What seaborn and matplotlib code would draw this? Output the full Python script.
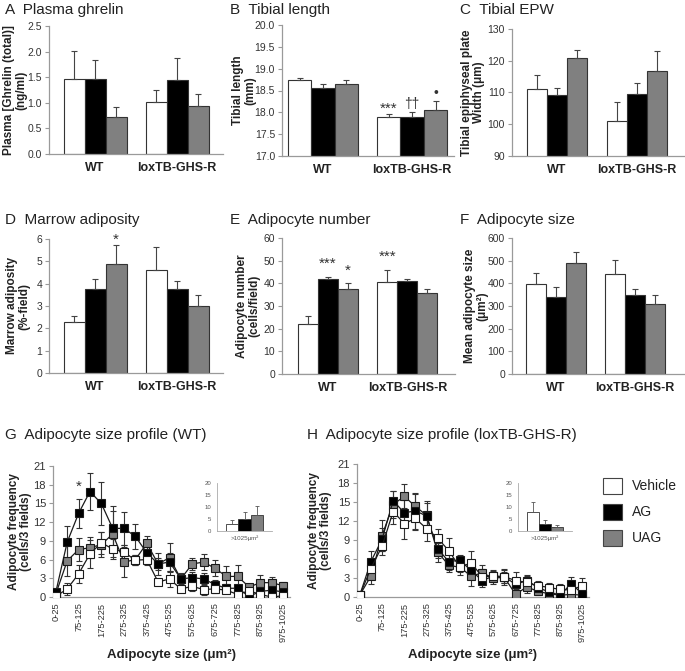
import numpy as np
import pandas as pd
import matplotlib
matplotlib.use("Agg")
import matplotlib.pyplot as plt
import seaborn as sns
from matplotlib.patches import Patch

sns.set_theme(style="white")
plt.rcParams["font.family"] = ["Liberation Sans", "DejaVu Sans"]

# ---------------- data ----------------
genotypes = ["WT", "loxTB-GHS-R"]
treatments = ["Vehicle", "AG", "UAG"]

a_wt, a_wt_err = [1.47, 1.46, 0.72], [0.55, 0.38, 0.20]
a_lox, a_lox_err = [1.02, 1.45, 0.93], [0.23, 0.43, 0.24]

b_wt, b_wt_err = [18.73, 18.56, 18.65], [0.06, 0.08, 0.10]
b_lox, b_lox_err = [17.90, 17.90, 18.05], [0.07, 0.10, 0.20]

c_wt, c_wt_err = [111.0, 109.3, 120.8], [4.5, 2.0, 2.7]
c_lox, c_lox_err = [101.0, 109.5, 116.8], [6.0, 3.5, 6.2]

d_wt, d_wt_err = [2.27, 3.77, 4.90], [0.30, 0.42, 0.82]
d_lox, d_lox_err = [4.63, 3.77, 2.99], [1.03, 0.37, 0.50]

e_wt, e_wt_err = [22.2, 42.1, 37.3], [3.2, 0.9, 3.0]
e_lox, e_lox_err = [40.7, 40.9, 35.6], [5.0, 1.1, 1.7]

f_wt, f_wt_err = [395, 340, 490], [52, 45, 50]
f_lox, f_lox_err = [442, 347, 311], [62, 28, 38]

size_bins = ["0-25", "25-75", "75-125", "125-175", "175-225", "225-275", "275-325",
             "325-375", "375-425", "425-475", "475-525", "525-575", "575-625",
             "625-675", "675-725", "725-775", "775-825", "825-875", "875-925",
             "925-975", "975-1025"]

g_vehicle = [0.1, 1.3, 3.7, 6.9, 8.7, 7.7, 7.2, 5.9, 6.0, 2.4, 2.9, 1.3, 1.7, 1.2, 1.3, 1.1, 0.4, 1.0, 0.4, 0.0, 0.2]
g_ag = [0.8, 8.8, 13.4, 16.9, 15.0, 11.0, 11.0, 9.7, 7.1, 5.3, 5.6, 2.9, 3.1, 2.9, 2.0, 1.4, 1.4, 0.1, 0.9, 1.1, 0.8]
g_uag = [0.5, 5.8, 7.6, 7.9, 8.4, 10.1, 5.6, 6.0, 8.6, 5.3, 6.3, 2.9, 5.3, 5.6, 4.6, 3.3, 3.3, 1.6, 2.3, 2.3, 1.8]
g_vehicle_err = [0.3, 0.9, 1.5, 2.2, 1.8, 1.6, 1.2, 0.8, 0.8, 0.5, 1.3, 0.5, 0.8, 0.9, 0.6, 0.5, 0.4, 0.6, 0.4, 0.2, 0.3]
g_ag_err = [0.5, 2.6, 2.3, 2.9, 3.4, 3.6, 2.7, 2.0, 1.0, 1.0, 1.5, 0.8, 0.9, 0.9, 0.8, 0.7, 0.6, 0.3, 0.6, 0.5, 0.5]
g_uag_err = [0.4, 2.5, 1.8, 1.7, 2.0, 3.7, 2.4, 0.8, 1.2, 1.8, 2.3, 1.0, 0.9, 1.3, 1.3, 1.7, 1.8, 0.5, 1.3, 0.9, 0.6]

h_vehicle = [0.3, 4.5, 8.0, 13.5, 11.6, 12.4, 10.8, 9.3, 7.3, 4.7, 5.4, 3.2, 3.3, 3.2, 2.6, 2.3, 1.8, 1.5, 1.2, 1.1, 1.8]
h_ag = [0.3, 5.6, 9.1, 15.2, 13.3, 13.6, 12.8, 7.6, 5.6, 5.8, 4.2, 2.6, 3.3, 3.2, 2.0, 2.6, 1.5, 0.8, 0.3, 2.1, 0.5]
h_uag = [0.3, 3.3, 9.7, 14.6, 15.9, 14.3, 12.9, 7.1, 5.0, 4.7, 3.3, 3.8, 3.0, 3.1, 0.4, 1.6, 0.9, 0.5, 0.3, 0.4, 0.3]
h_vehicle_err = [0.3, 1.5, 1.3, 2.0, 2.5, 1.8, 2.0, 1.5, 2.0, 1.3, 1.8, 1.2, 1.0, 1.3, 1.3, 1.0, 0.8, 0.7, 0.8, 0.8, 1.2]
h_ag_err = [0.3, 1.6, 1.8, 1.5, 2.0, 2.8, 2.3, 1.5, 1.3, 0.9, 1.0, 1.0, 0.8, 1.0, 1.0, 0.8, 0.7, 0.6, 0.4, 1.0, 0.6]
h_uag_err = [0.3, 1.2, 2.5, 2.2, 2.0, 2.0, 2.0, 1.5, 1.0, 0.8, 1.5, 1.3, 1.0, 0.9, 0.3, 1.0, 0.6, 0.5, 0.3, 0.4, 0.2]

inset_label = ">1025\u00b5m\u00b2"
g_large, g_large_err = [3.0, 4.8, 6.8], [1.5, 3.2, 3.5]
h_large, h_large_err = [8.0, 2.8, 1.8], [4.0, 1.7, 0.8]

# ---------------- style ----------------
W, H = 685, 671
FILL = ["#ffffff", "#000000", "#808080"]
EDGE = "#333333"
SPINE = "#9a9a9a"
TXT = "#222222"

fig = plt.figure(figsize=(W / 100, H / 100), dpi=100)
fig.patch.set_facecolor("white")


def rect(l, t, r, b):
    return [l / W, 1 - b / H, (r - l) / W, (b - t) / H]


def style_axes(ax, ylab_size=7.5):
    sns.despine(ax=ax)
    for s in ("left", "bottom"):
        ax.spines[s].set_color(SPINE)
        ax.spines[s].set_linewidth(0.9)
    ax.tick_params(axis="y", left=True, length=3, width=0.8, color=SPINE,
                   labelsize=ylab_size, labelcolor="#333333", pad=2)
    ax.set_facecolor("white")
    ax.grid(False)


def set_ylabel(ax, text, off_px, size=8.5):
    ax.set_ylabel(text, fontsize=size, fontweight="bold", color=TXT, linespacing=1.05)
    ax.yaxis.label.set_va("center")
    wpx = ax.get_position().width * W
    ax.yaxis.set_label_coords(-off_px / wpx, 0.5)


def bar_panel(box, wt, lox, wt_err, lox_err, ylim, yticks, fmt, ylabel, off, xlim, width):
    ax = fig.add_axes(rect(*box))
    df = pd.DataFrame({
        "genotype": [g for g in genotypes for _ in treatments],
        "treatment": treatments * 2,
        "value": list(wt) + list(lox),
    })
    sns.barplot(data=df, x="genotype", y="value", hue="treatment", order=genotypes,
                hue_order=treatments, palette=FILL, saturation=1, width=width,
                edgecolor=EDGE, linewidth=0.8, errorbar=None, legend=False, ax=ax)
    bars = list(ax.containers)
    ax._bar_conts = bars
    errs = [wt_err, lox_err]
    for i, cont in enumerate(bars):
        for j, bar in enumerate(cont):
            x = bar.get_x() + bar.get_width() / 2
            y = bar.get_height()
            ax.errorbar(x, y, yerr=[[0], [errs[j][i]]], fmt="none", ecolor="#444444",
                        elinewidth=0.8, capsize=2.5, capthick=0.8, zorder=1)
    ax.set_ylim(*ylim)
    ax.set_yticks(yticks)
    ax.set_yticklabels([fmt.format(v) for v in yticks])
    ax.set_xlim(*xlim)
    style_axes(ax)
    ax.tick_params(axis="x", bottom=False, length=0, labelsize=9, pad=6)
    for lab in ax.get_xticklabels():
        lab.set_fontweight("bold")
        lab.set_color(TXT)
    ax.set_xlabel("")
    set_ylabel(ax, ylabel, off)
    return ax


def bar_x(ax, hue_i, geno_i):
    bar = ax._bar_conts[hue_i][geno_i]
    return bar.get_x() + bar.get_width() / 2


TS = 11
# Row 1
axA = bar_panel((49, 26, 223, 154), a_wt, a_lox, a_wt_err, a_lox_err, (0, 2.5),
                [0, 0.5, 1.0, 1.5, 2.0, 2.5], "{:.1f}", "Plasma [Ghrelin (total)]\n(ng/ml)", 34,
                (-0.563, 1.56), 0.77)
axB = bar_panel((282, 25, 454, 156), b_wt, b_lox, b_wt_err, b_lox_err, (17, 20),
                [17, 17.5, 18, 18.5, 19, 19.5, 20], "{:.1f}", "Tibial length\n(mm)", 38,
                (-0.46, 1.47), 0.79)
axC = bar_panel((512, 29, 684, 156), c_wt, c_lox, c_wt_err, c_lox_err, (90, 130),
                [90, 100, 110, 120, 130], "{:.0f}", "Tibial epiphyseal plate\nWidth (\u03bcm)", 39,
                (-0.56, 1.585), 0.75)
# Row 2
axD = bar_panel((49, 239, 223, 373), d_wt, d_lox, d_wt_err, d_lox_err, (0, 6),
                [0, 1, 2, 3, 4, 5, 6], "{:.0f}", "Marrow adiposity\n(%-field)", 31,
                (-0.563, 1.56), 0.77)
axE = bar_panel((282, 238, 455, 374), e_wt, e_lox, e_wt_err, e_lox_err, (0, 60),
                [0, 10, 20, 30, 40, 50, 60], "{:.0f}", "Adipocyte number\n(cells/field)", 34,
                (-0.575, 1.6), 0.755)
axF = bar_panel((512, 238, 685, 374), f_wt, f_lox, f_wt_err, f_lox_err, (0, 600),
                [0, 100, 200, 300, 400, 500, 600], "{:.0f}", "Mean adipocyte size\n(\u03bcm\u00b2)", 36,
                (-0.555, 1.63), 0.755)

# annotations
ann_kw = dict(ha="center", va="center", color="#333333", fontsize=11)
axB.text(bar_x(axB, 0, 1), 18.08, "***", **ann_kw)
axB.text(bar_x(axB, 1, 1), 18.2, "\u2020\u2020", ha="center", va="center", color="#333333", fontsize=10)
axB.text(bar_x(axB, 2, 1), 18.45, "\u2022", ha="center", va="center", color="#333333", fontsize=10)
axD.text(bar_x(axD, 2, 0), 5.95, "*", clip_on=False, **ann_kw)
axE.text(bar_x(axE, 1, 0), 48.5, "***", **ann_kw)
axE.text(bar_x(axE, 2, 0), 45.5, "*", **ann_kw)
axE.text(bar_x(axE, 0, 1), 51.5, "***", **ann_kw)

# titles
for x, y, t in [(5, 10, "A  Plasma ghrelin"), (230, 10, "B  Tibial length"),
                (460, 10, "C  Tibial EPW"), (5, 220, "D  Marrow adiposity"),
                (230, 220, "E  Adipocyte number"), (460, 220, "F  Adipocyte size"),
                (5, 435, "G  Adipocyte size profile (WT)"),
                (307, 435, "H  Adipocyte size profile (loxTB-GHS-R)")]:
    fig.text(x / W, 1 - y / H, t, fontsize=TS, va="center", ha="left", color=TXT)


def profile_panel(box, veh, ag, uag, veh_e, ag_e, uag_e, off):
    ax = fig.add_axes(rect(*box))
    xs = np.arange(len(size_bins))
    for vals, errs, fc in [(uag, uag_e, FILL[2]), (ag, ag_e, FILL[1]), (veh, veh_e, FILL[0])]:
        ax.errorbar(xs, vals, yerr=errs, fmt="none", ecolor="#333333", elinewidth=0.8,
                    capsize=2.5, capthick=0.8, zorder=2)
        sns.lineplot(x=xs, y=vals, ax=ax, color="#1a1a1a", linewidth=0.9, marker="s",
                     markersize=5.3, markerfacecolor=fc, markeredgecolor="#1a1a1a",
                     markeredgewidth=0.8, zorder=3)
    ax.set_ylim(0, 21)
    ax.set_yticks(range(0, 22, 3))
    ax.set_xlim(-0.25, 20.6)
    ax.set_xticks(xs)
    ax.set_xticklabels([b if i % 2 == 0 else "" for i, b in enumerate(size_bins)],
                       rotation=90, fontsize=6.7, color="#333333")
    style_axes(ax, ylab_size=8)
    ax.tick_params(axis="x", bottom=False, length=0, pad=4)
    set_ylabel(ax, "Adipocyte frequency\n(cells/3 fields)", off)
    ax.set_xlabel("Adipocyte size (\u03bcm\u00b2)", fontsize=9.5, fontweight="bold", color=TXT)
    ax.xaxis.label.set_va("center")
    ax.xaxis.set_label_coords(0.5, -58 / (box[3] - box[1]))
    return ax


axG = profile_panel((53, 466, 290, 597), g_vehicle, g_ag, g_uag,
                    g_vehicle_err, g_ag_err, g_uag_err, 33)
axH = profile_panel((357, 464, 589, 597), h_vehicle, h_ag, h_uag,
                    h_vehicle_err, h_ag_err, h_uag_err, 37)
axG.text(2, 17.6, "*", **ann_kw)


def inset(box, vals, errs):
    ax = fig.add_axes(rect(*box))
    df = pd.DataFrame({"bin": [inset_label] * 3, "treatment": treatments, "value": vals})
    sns.barplot(data=df, x="bin", y="value", hue="treatment", hue_order=treatments,
                palette=FILL, saturation=1, width=0.8, edgecolor=EDGE, linewidth=0.6,
                errorbar=None, legend=False, ax=ax)
    bars = list(ax.containers)
    for i, cont in enumerate(bars):
        bar = cont[0]
        ax.errorbar(bar.get_x() + bar.get_width() / 2, bar.get_height(),
                    yerr=[[0], [errs[i]]], fmt="none", ecolor="#555555",
                    elinewidth=0.6, capsize=1.5, capthick=0.6, zorder=1)
    ax.set_ylim(0, 20)
    ax.set_yticks([0, 5, 10, 15, 20])
    ax.set_xlim(-0.6, 0.6)
    sns.despine(ax=ax)
    for s in ("left", "bottom"):
        ax.spines[s].set_color("#aaaaaa")
        ax.spines[s].set_linewidth(0.6)
    ax.tick_params(axis="y", left=False, length=0, labelsize=4.3, labelcolor="#555555", pad=4)
    ax.tick_params(axis="x", bottom=False, length=0, labelsize=4.5, labelcolor="#555555", pad=3)
    ax.set_xlabel("")
    ax.set_ylabel("")
    ax.set_facecolor("white")
    return ax


inset((217, 483, 272, 531), g_large, g_large_err)
inset((518, 483, 572, 531), h_large, h_large_err)

handles = [Patch(facecolor=c, edgecolor="#444444", linewidth=0.8) for c in FILL]
fig.legend(handles, treatments, loc="upper left", bbox_to_anchor=(603 / W, 1 - 478 / H),
           frameon=False, fontsize=10, handlelength=1.35, handleheight=1.35,
           handletextpad=0.7, labelspacing=0.75, borderpad=0, borderaxespad=0,
           labelcolor=TXT)

fig.savefig("out.png", dpi=100, facecolor="white")
